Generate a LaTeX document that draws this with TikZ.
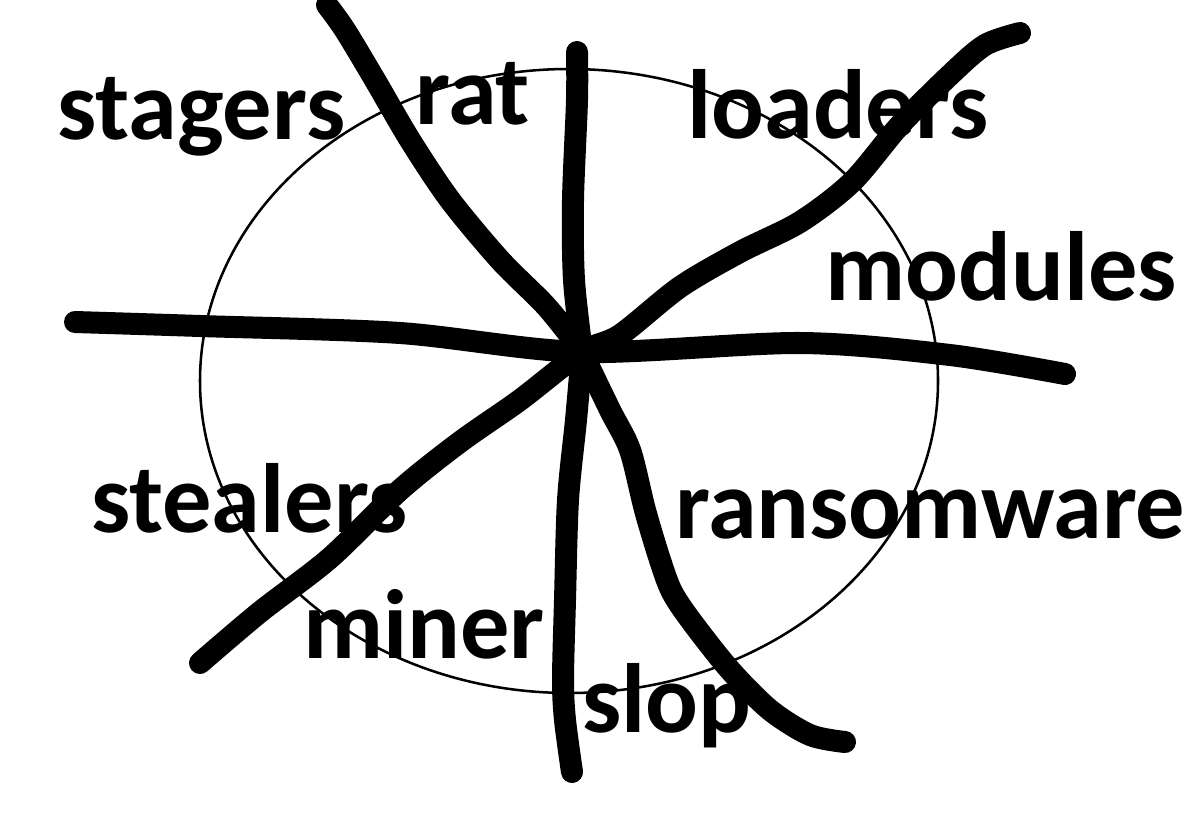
\documentclass[tikz,border=0pt]{standalone}
\usepackage{fontspec}
\setmainfont{Carlito}
\begin{document}
\begin{tikzpicture}[
    x=0.025cm,
    y=-0.025cm,
    word/.style={
        font=\fontsize{70}{82}\selectfont\bfseries,
        anchor=base west,
        inner sep=0pt
    },
    rim/.style={
        draw=black,
        line width=1.8pt
    },
    stroke/.style={
        draw=black,
        line width=0.55cm,
        line cap=round,
        line join=round
    }
]

\useasboundingbox (0,0) rectangle (1200,827);

\node[word] (stagers) at (57,140) {stagers};
\node[word] (rat) at (415,124) {rat};
\node[word] (loaders) at (687,139) {loaders};
\node[word] (modules) at (825,300) {modules};
\node[word] (stealers) at (91,532) {stealers};
\node[word] (ransomware) at (675,538) {ransomware};
\node[word] (miner) at (303,658) {miner};
\node[word] (slop) at (582,732) {slop};

\coordinate (hub) at (582,352);

\draw[rim] (569,381) ellipse [x radius=369, y radius=312];

\draw[stroke] plot[smooth] coordinates {
    (327,5) (345,30) (375,80) (410,140) (450,200)
    (500,260) (545,305) (575,342) (hub)};

\draw[stroke] plot[smooth] coordinates {
    (577,52) (577,100) (573,200) (574,280) (hub)};

\draw[stroke] plot[smooth] coordinates {
    (75,322) (200,326) (400,333) (hub) (800,343)
    (950,355) (1065,374)};

\draw[stroke] plot[smooth] coordinates {
    (1020,33) (985,45) (950,75) (900,125) (852,182)
    (800,222) (740,252) (680,287) (620,335) (hub)
    (520,400) (460,442) (400,490) (330,558) (260,612) (200,663)};

\draw[stroke] plot[smooth] coordinates {
    (hub) (576,420) (568,500) (565,600) (563,680)
    (565,720) (572,772)};

\draw[stroke] plot[smooth] coordinates {
    (hub) (610,410) (630,450) (645,510) (660,560)
    (672,592) (692,622) (730,670) (770,710) (810,735) (845,742)};

\end{tikzpicture}
\end{document}
